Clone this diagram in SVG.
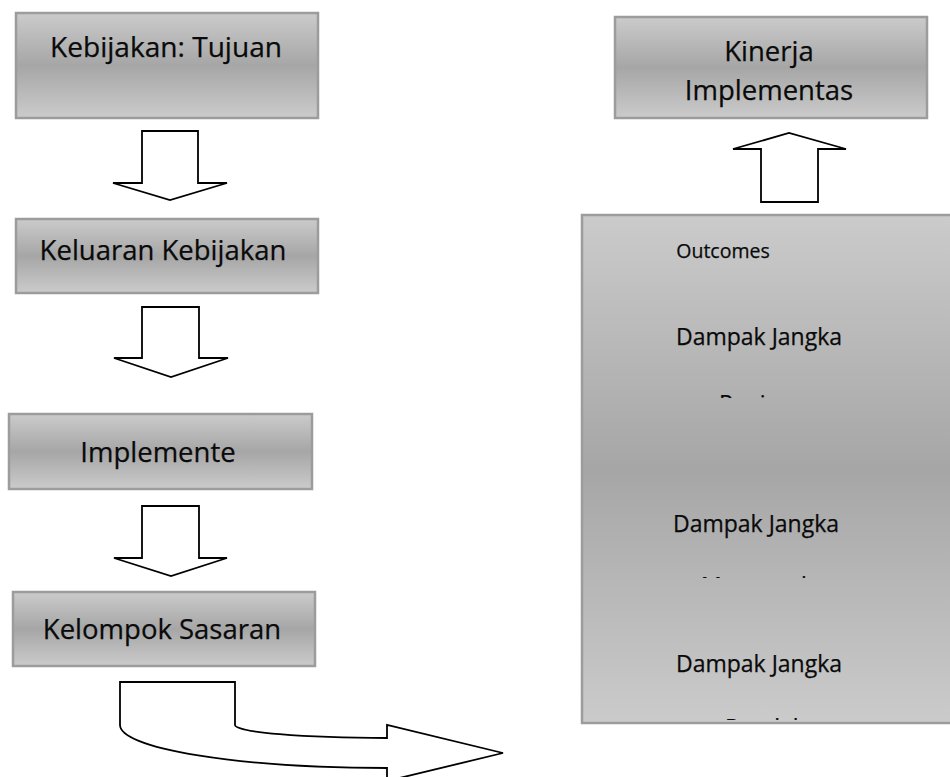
<svg xmlns="http://www.w3.org/2000/svg" width="950" height="777" viewBox="0 0 950 777">
<style>
.box{fill:url(#g);stroke:#9c9c9c;stroke-width:2.5}
.t{font-family:"Open Sans","Noto Sans",sans-serif;fill:#0a0a0a;stroke:#0a0a0a;stroke-width:0.25;text-anchor:middle}
.big{font-size:27.5px}
.mid{font-size:23px}
.sm{font-size:19.5px}
.arr{fill:#fff;stroke:#000;stroke-width:1.8;stroke-linejoin:miter}
</style>
<defs>
<linearGradient id="g" x1="0" y1="0" x2="0" y2="1">
<stop offset="0" stop-color="#cbcbcb"/>
<stop offset="0.5" stop-color="#a6a6a6"/>
<stop offset="1" stop-color="#cbcbcb"/>
</linearGradient>
<clipPath id="c1"><rect x="582" y="380" width="368" height="18"/></clipPath>
<clipPath id="c2"><rect x="582" y="560" width="368" height="18"/></clipPath>
<clipPath id="c3"><rect x="582" y="700" width="368" height="20"/></clipPath>
</defs>
<g id="n1"><rect class="box" x="16" y="13" width="302" height="105"/><text class="t big" x="166" y="57" textLength="232" lengthAdjust="spacingAndGlyphs">Kebijakan: Tujuan</text></g>
<g id="n2"><rect class="box" x="16" y="219" width="302" height="74"/><text class="t big" x="163" y="260">Keluaran Kebijakan</text></g>
<g id="n3"><rect class="box" x="9" y="414" width="303" height="75"/><text class="t big" x="158" y="462">Implemente</text></g>
<g id="n4"><rect class="box" x="13" y="592" width="302" height="74"/><text class="t big" x="162" y="639">Kelompok Sasaran</text></g>
<g id="n5"><rect class="box" x="615" y="17" width="312" height="101"/><text class="t big" x="769" y="61">Kinerja</text><text class="t big" x="769" y="100">Implementas</text></g>
<g id="n6"><rect class="box" x="582" y="215" width="380" height="508"/>
<text class="t sm" x="723" y="258">Outcomes</text>
<text class="t mid" x="759" y="345">Dampak Jangka</text>
<text class="t mid" x="762" y="412" clip-path="url(#c1)">Panjang</text>
<text class="t mid" x="756" y="532">Dampak Jangka</text>
<text class="t mid" x="758" y="594" clip-path="url(#c2)">Menengah</text>
<text class="t mid" x="759" y="672">Dampak Jangka</text>
<text class="t mid" x="765" y="736" clip-path="url(#c3)">Pendek</text>
</g>
<g id="connectors">
<path class="arr" d="M142,131 H198 V183 H227 L170,200 L113,183 H142 Z"/>
<path class="arr" d="M142,307 H199 V358 H228 L171,377 L114,358 H142 Z"/>
<path class="arr" d="M142,506 H199 V558 H227 L171,576 L114,558 H142 Z"/>
<path class="arr" d="M761,202 V149 H733 L789,133 L846,149 H818 V202 Z"/>
<path class="arr" d="M120,682 H235 V725 A152,13 0 0 0 387,738 V725 L503,753 L387,781 V768 A267,43 0 0 1 120,725 Z"/>
</g>
</svg>
